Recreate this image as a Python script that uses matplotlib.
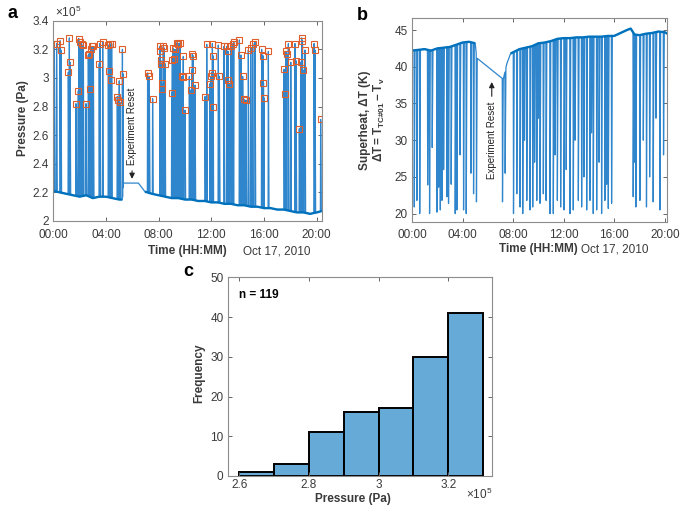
import numpy as np
import matplotlib
matplotlib.use("Agg")
import matplotlib.pyplot as plt

plt.rcParams['font.family'] = ['Liberation Sans', 'DejaVu Sans']
plt.rcParams['mathtext.fontset'] = 'custom'
plt.rcParams['mathtext.rm'] = 'Liberation Sans'
plt.rcParams['mathtext.bf'] = 'Liberation Sans:bold'

# ----- panel a: pressure peaks (hours, 1e5 Pa) -----
peak_t = [0.08, 0.25, 0.51, 0.58, 1.14, 1.22, 1.27,
          1.72, 1.90, 1.93, 2.03, 2.15, 2.28,
          2.48, 2.66, 2.73, 2.82, 2.86, 2.91, 3.04,
          3.49, 3.54, 3.75,
          4.18, 4.23, 4.30, 4.35, 4.43,
          4.86, 4.94, 5.01, 5.06, 5.25, 5.28,
          7.16, 7.29, 7.54,
          8.10, 8.13, 8.15, 8.18, 8.23, 8.28, 8.35, 8.41, 8.48,
          8.99, 9.04, 9.08, 9.16, 9.24,
          9.37, 9.49, 9.62, 9.75, 9.82, 9.87, 10.0,
          10.33, 10.43, 10.51, 10.56, 10.62, 10.76,
          11.52, 11.65,
          11.90, 11.95, 12.03, 12.08, 12.12, 12.15,
          12.53, 12.61, 12.96, 13.16, 13.27, 13.30, 13.34, 13.49,
          13.65, 13.70, 14.13, 14.25, 14.38, 14.48, 14.63,
          14.81, 14.99, 15.14, 15.32,
          15.82, 15.93, 15.96, 16.0, 16.33,
          17.52, 17.59, 17.67, 17.72, 17.85, 18.03,
          18.35, 18.43, 18.68, 18.78, 18.86, 18.92, 18.95, 19.11,
          19.80, 19.87, 20.30]
peak_p = [3.24, 3.24, 3.26, 3.195, 3.04, 3.28, 3.11,
          2.82, 2.91, 3.275, 3.25, 3.24, 3.23,
          2.82, 3.16, 3.17, 2.92, 3.205, 3.22, 3.22,
          3.10, 3.24, 3.25,
          3.23, 3.05, 3.24, 2.985, 3.24,
          2.87, 2.845, 2.98, 2.83, 3.20, 3.03,
          3.035, 3.01, 2.855,
          3.22, 3.185, 3.125, 3.10, 2.965, 2.925, 3.22, 3.21, 3.10,
          2.895, 3.125, 3.21, 3.13, 3.20,
          3.245, 3.24, 3.245, 3.01, 3.005, 3.15, 2.775,
          3.01, 2.915, 3.055, 3.17, 3.155, 2.95,
          2.87, 3.235,
          2.96, 3.01, 3.035, 3.24, 3.155, 2.80,
          3.23, 3.01, 3.22, 3.22, 3.185, 2.985, 2.96, 3.22,
          3.235, 3.25, 3.265, 3.16, 3.01, 2.85, 2.845,
          3.195, 3.21, 3.24, 3.25,
          3.20, 3.155, 2.965, 2.86, 3.185,
          3.06, 2.89, 3.185, 3.17, 3.24, 3.11,
          3.24, 3.12, 2.645, 3.11, 3.28, 3.26, 3.055, 3.195,
          3.24, 3.195, 2.71]

# baseline pressure between spikes (hours, 1e5 Pa)
base_t = [0, 0.5, 1, 1.5, 2, 2.5, 3, 3.5, 4, 4.5, 5, 5.25, 5.32, 6.46, 6.96,
          7.5, 8, 8.5, 9, 9.5, 10, 10.5, 11, 11.5, 12, 12.5, 13, 13.5, 14,
          14.5, 15, 15.5, 16, 16.5, 17, 17.5, 18, 18.5, 19, 19.5, 20, 20.4]
base_p = [2.21, 2.20, 2.19, 2.18, 2.17, 2.18, 2.16, 2.17, 2.17, 2.16, 2.15, 2.15,
          2.265, 2.265, 2.205,
          2.19, 2.18, 2.17, 2.16, 2.16, 2.15, 2.15, 2.14, 2.14, 2.13, 2.13,
          2.12, 2.12, 2.11, 2.11, 2.10, 2.10, 2.09, 2.09, 2.08, 2.08, 2.07,
          2.06, 2.06, 2.05, 2.06, 2.07]

# ----- panel b: superheat dips (hours, K) -----
dip_t = [0.18, 0.39, 0.61, 1.24, 1.39, 1.60, 1.97, 2.11, 2.24, 2.37, 2.50,
         2.76, 2.89, 3.10, 3.42, 3.55, 3.80, 4.08, 4.29, 4.66, 4.87, 5.10,
         7.16, 7.37, 8.03, 8.29, 8.55, 8.76, 8.90, 9.08, 9.34, 9.55, 9.70,
         9.87, 10.00, 10.13, 10.39, 10.61, 10.92, 11.18, 11.32, 11.50, 11.76,
         12.03, 12.20, 12.50, 12.76, 12.90, 13.16, 13.42, 13.60, 13.82, 14.08,
         14.20, 14.34, 14.61, 14.80, 15.00, 15.26, 15.40, 15.53, 15.79,
         17.50, 17.62, 17.71, 18.03, 18.30, 18.55, 18.80, 19.08, 19.30,
         19.61, 19.90]
dip_v = [20.9, 21.8, 20.0, 23.9, 20.0, 29.0, 20.2, 23.6, 20.5, 21.8, 26.0,
         22.3, 21.4, 24.0, 20.0, 20.5, 28.0, 20.5, 20.0, 25.5, 22.7, 21.6,
         21.6, 25.5, 20.0, 22.7, 20.9, 20.0, 30.0, 21.8, 20.5, 20.9, 27.0,
         21.8, 33.0, 21.4, 22.7, 21.8, 20.0, 20.0, 28.0, 21.8, 20.9,
         20.5, 26.0, 20.0, 20.5, 30.0, 21.8, 20.9, 25.0, 20.5, 21.8,
         31.0, 20.0, 20.5, 27.0, 20.0, 21.8, 24.0, 20.7, 21.4,
         22.3, 27.0, 20.9, 21.8, 30.0, 20.9, 25.0, 21.6, 33.0,
         20.5, 28.0]

top_t = [0, 0.5, 1, 1.5, 2, 2.5, 3, 3.5, 4, 4.5, 5.0, 5.12, 7.22, 7.5, 7.8,
         8.5, 9, 9.5, 10, 10.5, 11, 11.5, 12, 12.5, 13, 13.5, 14, 14.5, 15,
         15.5, 16, 16.5, 17, 17.3, 17.6, 18, 18.5, 19, 19.5, 20, 20.2]
top_v = [42.2, 42.3, 42.4, 42.2, 42.5, 42.6, 42.7, 43.0, 43.3, 43.4, 43.2, 41.2,
         38.3, 40.4, 41.8,
         42.4, 42.6, 42.8, 43.2, 43.3, 43.5, 43.8, 43.9, 43.9, 44.0, 44.0,
         44.1, 44.1, 44.1, 44.2, 44.2, 44.6, 45.0, 45.2, 44.4, 44.3, 44.5,
         44.6, 44.8, 44.7, 44.5]

# ----- panel c: histogram of peak pressures -----
bin_edges = [2.6, 2.7, 2.8, 2.9, 3.0, 3.1, 3.2, 3.3]
counts = [1, 3, 11, 16, 17, 30, 41]

time_ticks = [0, 4, 8, 12, 16, 20]
time_labels = ['00:00', '04:00', '08:00', '12:00', '16:00', '20:00']

BLUE = '#0072BD'
SPIKE = '#2f86cc'
ORANGE = '#DE5F2C'
TXT = '#3a3a3a'
FS = 8.5
W, H = 685.0, 518.0


def chain(knot_t, knot_v, ev_t, ev_v, pre, post):
    pts = []
    for t, v in zip(ev_t, ev_v):
        pts.append((t - pre, np.interp(t - pre, knot_t, knot_v)))
        pts.append((t, v))
        pts.append((t + post, np.interp(t + post, knot_t, knot_v)))
    for t, v in zip(knot_t, knot_v):
        if not any(abs(t - e) < pre + post for e in ev_t):
            pts.append((t, v))
    pts.sort()
    arr = np.array(pts)
    return arr[:, 0], arr[:, 1]


def style(ax, xpad=3):
    for s in ax.spines.values():
        s.set_color('#8c8c8c')
        s.set_linewidth(0.8)
    ax.tick_params(direction='in', length=3, width=0.7, top=True, right=True,
                   colors='#666666', labelcolor=TXT, labelsize=FS)
    ax.tick_params(axis='x', pad=xpad)
    ax.tick_params(axis='y', pad=3)


def fx(px):
    return px / W


def fy(py):
    return 1 - py / H


fig = plt.figure(figsize=(6.85, 5.18), dpi=100)

# ---------------- a ----------------
ax1 = fig.add_axes([fx(53.3), fy(221), fx(321.7 - 53.3), (221 - 20.7) / H])
x, y = chain(base_t, base_p, peak_t, peak_p, 0.02, 0.05)
ax1.plot(x, y, color=SPIKE, lw=0.9)
bt = np.array(base_t)
bp = np.array(base_p)
m1 = bt <= 5.25
m2 = bt >= 6.96
ax1.plot(bt[m1], bp[m1], color=BLUE, lw=1.7, solid_capstyle='butt')
ax1.plot(bt[m2], bp[m2], color=BLUE, lw=1.7, solid_capstyle='butt')
ax1.plot(peak_t, peak_p, 's', mfc='none', mec=ORANGE, ms=3.8, mew=0.8)
ax1.set_xlim(0, 20.38)
ax1.set_ylim(2, 3.4)
ax1.set_yticks([2, 2.2, 2.4, 2.6, 2.8, 3, 3.2, 3.4])
ax1.set_yticklabels(['2', '2.2', '2.4', '2.6', '2.8', '3', '3.2', '3.4'])
ax1.set_xticks(time_ticks)
ax1.set_xticklabels(time_labels)
style(ax1, xpad=5.5)
ax1.text(5.98, 2.665, 'Experiment Reset', rotation=90, ha='center', va='center',
         fontsize=7, color='#222222')
ax1.annotate('', xy=(5.98, 2.275), xytext=(5.98, 2.37),
             arrowprops=dict(arrowstyle='-|>', color='#222222', lw=0.8, mutation_scale=8))
fig.text(fx(23), fy(118), 'Pressure (Pa)', rotation=90, fontsize=FS, fontweight='bold',
         color=TXT, ha='center', va='center')
fig.text(fx(55), fy(12), r'$\times10^5$', fontsize=FS, color=TXT, va='center')
fig.text(fx(148), fy(251), 'Time (HH:MM)', fontsize=FS, fontweight='bold', color=TXT, va='center')
fig.text(fx(243), fy(251), 'Oct 17, 2010', fontsize=FS, color=TXT, va='center')
fig.text(fx(8), fy(14), 'a', fontsize=13, fontweight='bold', va='center')

# ---------------- b ----------------
ax2 = fig.add_axes([fx(412), fy(221.7), fx(666.7 - 412), (221.7 - 18.3) / H])
x, y = chain(top_t, top_v, dip_t, dip_v, 0.02, 0.06)
ax2.plot(x, y, color=SPIKE, lw=0.9)
tt = np.array(top_t)
tv = np.array(top_v)
n1 = tt <= 5.0
n2 = tt >= 7.8
ax2.plot(tt[n1], tv[n1], color=BLUE, lw=1.7, solid_capstyle='butt')
ax2.plot(tt[n2], tv[n2], color=BLUE, lw=1.7, solid_capstyle='butt')
ax2.set_xlim(0, 20.15)
ax2.set_ylim(18.9, 46.6)
ax2.set_yticks([20, 25, 30, 35, 40, 45])
ax2.set_xticks(time_ticks)
ax2.set_xticklabels(time_labels)
style(ax2, xpad=5.5)
ax2.text(6.31, 30.0, 'Experiment Reset', rotation=90, ha='center', va='center',
         fontsize=7, color='#222222')
ax2.annotate('', xy=(6.31, 38.3), xytext=(6.31, 35.6),
             arrowprops=dict(arrowstyle='-|>', color='#222222', lw=0.8, mutation_scale=8))
fig.text(fx(365), fy(120), 'Superheat, \u0394T (K)', rotation=90, fontsize=FS,
         fontweight='bold', color=TXT, ha='center', va='center')
fig.text(fx(379), fy(120), r'$\mathbf{\Delta T = T_{TC\#01} - T_v}$', rotation=90,
         fontsize=FS, color=TXT, ha='center', va='center')
fig.text(fx(499), fy(249), 'Time (HH:MM)', fontsize=FS, fontweight='bold', color=TXT, va='center')
fig.text(fx(581), fy(249), 'Oct 17, 2010', fontsize=FS, color=TXT, va='center')
fig.text(fx(357), fy(15), 'b', fontsize=13, fontweight='bold', va='center')

# ---------------- c ----------------
ax3 = fig.add_axes([fx(227.7), fy(476), fx(491.7 - 227.7), (476 - 277.3) / H])
ax3.bar(bin_edges[:-1], counts, width=np.diff(bin_edges), align='edge',
        color='#66AAD7', edgecolor='black', linewidth=1.4)
ax3.set_xlim(2.567, 3.325)
ax3.set_ylim(0, 50)
ax3.set_xticks([2.6, 2.8, 3.0, 3.2])
ax3.set_xticklabels(['2.6', '2.8', '3', '3.2'])
ax3.set_yticks([0, 10, 20, 30, 40, 50])
style(ax3, xpad=2)
ax3.text(2.6, 45.5, 'n = 119', fontsize=FS, fontweight='bold', ha='left', va='center')
fig.text(fx(353), fy(499), 'Pressure (Pa)', fontsize=FS, fontweight='bold', color=TXT,
         ha='center', va='center')
fig.text(fx(199), fy(373), 'Frequency', rotation=90, fontsize=FS, fontweight='bold',
         color=TXT, ha='center', va='center')
fig.text(fx(466), fy(494), r'$\times10^5$', fontsize=FS, color=TXT, va='center')
fig.text(fx(183), fy(271), 'c', fontsize=13, fontweight='bold', va='center')

fig.savefig('out.png', dpi=100, facecolor='white')
